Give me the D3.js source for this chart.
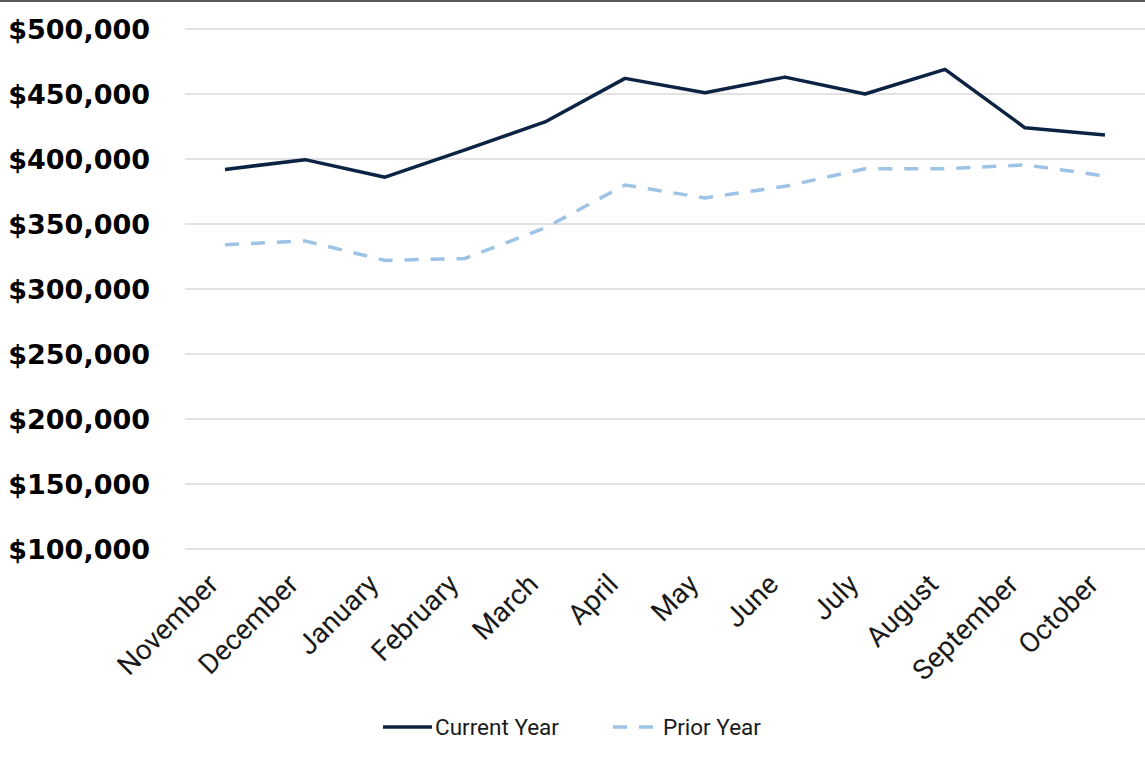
<!DOCTYPE html>
<html>
<head>
<meta charset="utf-8">
<script src="https://cdn.jsdelivr.net/npm/d3@7"></script>
<style>
  body { margin: 0; background: #fff; }
  .ytick { font-family: "DejaVu Sans"; font-weight: bold; font-size: 27px; fill: #000; }
  .xtick { font-family: Roboto; font-size: 28px; fill: #1a1a1a; }
  .legend text { font-family: Roboto; font-size: 22.5px; fill: #1a1a1a; }
</style>
</head>
<body>
<div id="chart"></div>
<script>
var months = ["November","December","January","February","March","April","May","June","July","August","September","October"];
var currentYear = [392000, 399500, 386000, 407000, 428500, 462000, 451000, 463000, 450000, 469000, 424000, 418500];
var priorYear = [334000, 337000, 322000, 323500, 347000, 380000, 370000, 379000, 392500, 392500, 395500, 387000];
var yTicks = [100000, 150000, 200000, 250000, 300000, 350000, 400000, 450000, 500000];

var width = 1145,
    height = 758;
var plotLeft = 185, plotRight = 1145, plotTop = 29, plotBottom = 549;

var svg = d3.select("#chart").append("svg")
    .attr("width", width)
    .attr("height", height);

// top border
svg.append("line")
    .attr("x1", 0).attr("x2", width)
    .attr("y1", 1).attr("y2", 1)
    .style("stroke", "#5a5a5a")
    .style("stroke-width", 2);

var x = d3.scaleBand().domain(months).range([plotLeft, plotRight]);
var y = d3.scaleLinear().domain([100000, 500000]).range([plotBottom, plotTop]);
var fmt = d3.format("$,");

// gridlines
svg.selectAll("line.grid")
    .data(yTicks).enter().append("line")
    .attr("class", "grid")
    .attr("x1", plotLeft).attr("x2", plotRight)
    .attr("y1", function(d) { return y(d); })
    .attr("y2", function(d) { return y(d); })
    .style("stroke", "#d9d9d9")
    .style("stroke-width", 1.5);

svg.selectAll("text.ytick")
    .data(yTicks).enter().append("text")
    .attr("class", "ytick")
    .attr("x", 150)
    .attr("y", function(d) { return y(d); })
    .attr("dy", "0.36em")
    .attr("text-anchor", "end")
    .text(function(d) { return fmt(d); });

svg.selectAll("text.xtick")
    .data(months).enter().append("text")
    .attr("class", "xtick")
    .attr("text-anchor", "end")
    .attr("transform", function(d) {
        return "translate(" + (x(d) + x.bandwidth() / 2 - 12) + ",579) rotate(-45)";
    })
    .attr("dy", "0.35em")
    .text(function(d) { return d; });

var line = d3.line()
    .x(function(d, i) { return x(months[i]) + x.bandwidth() / 2; })
    .y(function(d) { return y(d); });

svg.append("path")
    .datum(priorYear)
    .attr("d", line)
    .style("fill", "none")
    .style("stroke", "#9dc3e6")
    .style("stroke-width", 3.5)
    .style("stroke-dasharray", "14,12");

svg.append("path")
    .datum(currentYear)
    .attr("d", line)
    .style("fill", "none")
    .style("stroke", "#0c2343")
    .style("stroke-width", 3.5)
    .style("stroke-linejoin", "round");

// legend
var legend = svg.append("g").attr("class", "legend");
legend.append("line")
    .attr("x1", 383).attr("x2", 432).attr("y1", 727).attr("y2", 727)
    .style("stroke", "#0c2343").style("stroke-width", 3.5);
legend.append("text").attr("x", 435).attr("y", 727).attr("dy", "0.35em").text("Current Year");
legend.append("line")
    .attr("x1", 613).attr("x2", 653).attr("y1", 727).attr("y2", 727)
    .style("stroke", "#9dc3e6").style("stroke-width", 3.5)
    .style("stroke-dasharray", "14,12");
legend.append("text").attr("x", 663).attr("y", 727).attr("dy", "0.35em").text("Prior Year");
</script>
</body>
</html>
